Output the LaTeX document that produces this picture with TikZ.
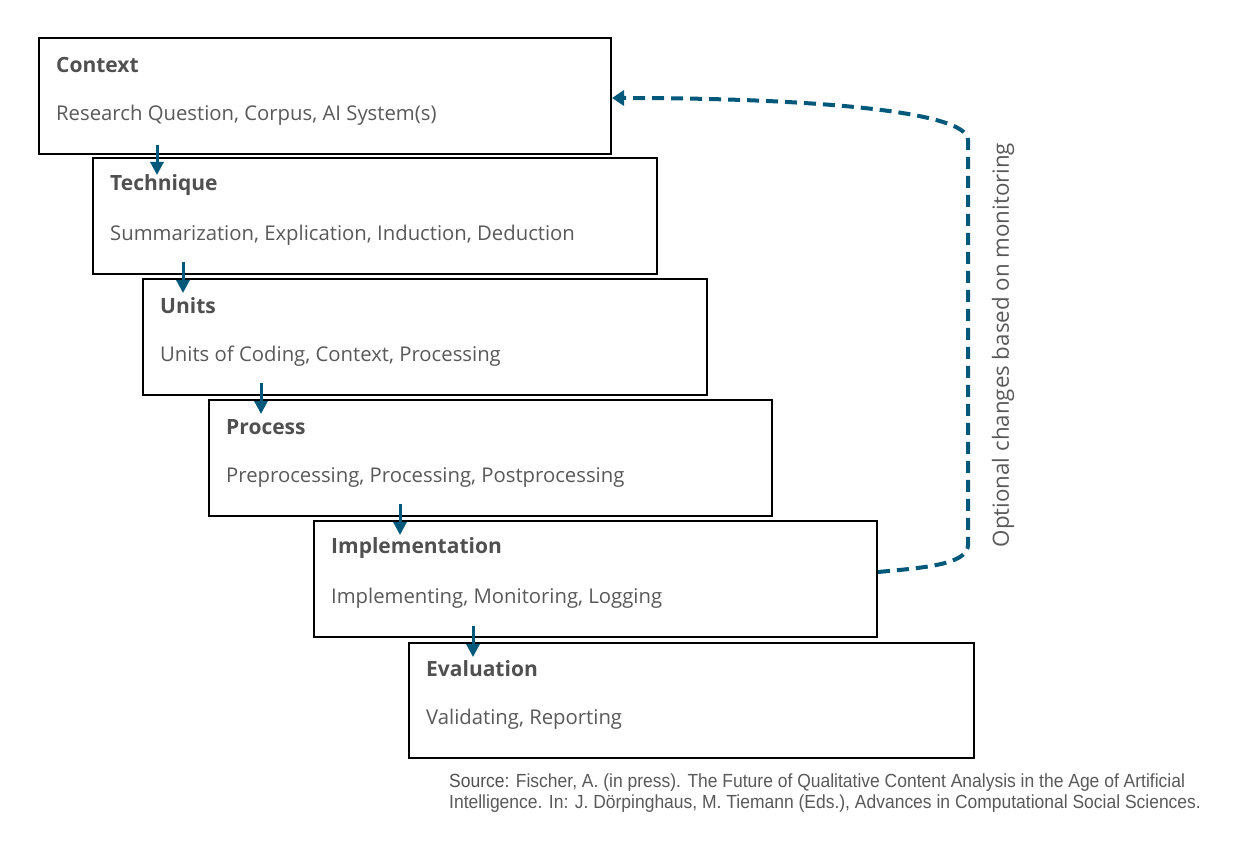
\documentclass[tikz,border=0pt]{standalone}
\usepackage{fontspec}
\setmainfont{Open Sans}
\newfontfamily\srcfont[FakeStretch=0.92]{Liberation Sans}
\usetikzlibrary{arrows.meta}
\definecolor{teal}{HTML}{00587A}
\definecolor{txt}{HTML}{595959}
\definecolor{ttl}{HTML}{505050}
\tikzset{
  stage/.style={draw=black, line width=1.2pt, fill=white},
  ttl/.style={anchor=west, text=ttl, font=\fontsize{21}{24}\selectfont\bfseries, inner sep=0},
  sub/.style={anchor=west, text=txt, font=\fontsize{20.3}{24}\selectfont, inner sep=0},
  flow/.style={draw=teal, line width=3pt, -{Triangle[width=13pt,length=13pt]}},
  loop/.style={draw=teal, line width=4pt, dash pattern=on 12pt off 7pt, -{Triangle[width=15pt,length=12pt]}},
}
\begin{document}
\begin{tikzpicture}[x=1pt,y=-1pt]
\useasboundingbox (0,0) rectangle (1250,845);
% boxes
\path[stage] (39,38) rectangle (611,154);
\node[ttl] (t1) at (56,65) {Context};
\node[sub] (s1) at (56,115) {Research Question, Corpus, AI System(s)};
\path[stage] (93,158) rectangle (657,274);
\node[ttl] (t2) at (110,185) {Technique};
\node[sub] (s2) at (110,235) {Summarization, Explication, Induction, Deduction};
\path[stage] (143,279) rectangle (707,395);
\node[ttl] (t3) at (160,306) {Units};
\node[sub] (s3) at (160,356) {Units of Coding, Context, Processing};
\path[stage] (209,400) rectangle (772,516);
\node[ttl] (t4) at (226,427) {Process};
\node[sub] (s4) at (226,477) {Preprocessing, Processing, Postprocessing};
\path[stage] (314,521) rectangle (877,637);
\node[ttl] (t5) at (331,548) {Implementation};
\node[sub] (s5) at (331,598) {Implementing, Monitoring, Logging};
\path[stage] (409,643) rectangle (974,758);
\node[ttl] (t6) at (426,669) {Evaluation};
\node[sub] (s6) at (426,719) {Validating, Reporting};
% arrows
\coordinate (a1s) at (157,145); \coordinate (a1e) at (157,175);
\coordinate (a2s) at (183,262); \coordinate (a2e) at (183,293);
\coordinate (a3s) at (261,383); \coordinate (a3e) at (261,414);
\coordinate (a4s) at (400,504); \coordinate (a4e) at (400,535);
\coordinate (a5s) at (473,626); \coordinate (a5e) at (473,657);
\draw[flow] (a1s) -- (a1e);
\draw[flow] (a2s) -- (a2e);
\draw[flow] (a3s) -- (a3e);
\draw[flow] (a4s) -- (a4e);
\draw[flow] (a5s) -- (a5e);
% feedback loop
\coordinate (ls) at (878,572);
\coordinate (lc1) at (968,545);
\coordinate (lc2) at (968,140);
\coordinate (le) at (612,98);
\draw[loop] (ls) .. controls (920,568) and (968,565) .. (lc1) -- (lc2) .. controls (968,110) and (800,98) .. (le);
\node[rotate=90, text=txt, font=\fontsize{22.3}{26}\selectfont, inner sep=0] (lbl) at (1003,345) {Optional changes based on monitoring};
% source
\node[anchor=north west, align=left, text=txt, font=\srcfont\fontsize{19}{21}\selectfont, inner sep=0] (src) at (449,774) {{\color{ttl}Source:} Fischer, A. (in press). The Future of Qualitative Content Analysis in the Age of Artificial\\Intelligence. In: J. Dörpinghaus, M. Tiemann (Eds.), Advances in Computational Social Sciences.};
\end{tikzpicture}
\end{document}
